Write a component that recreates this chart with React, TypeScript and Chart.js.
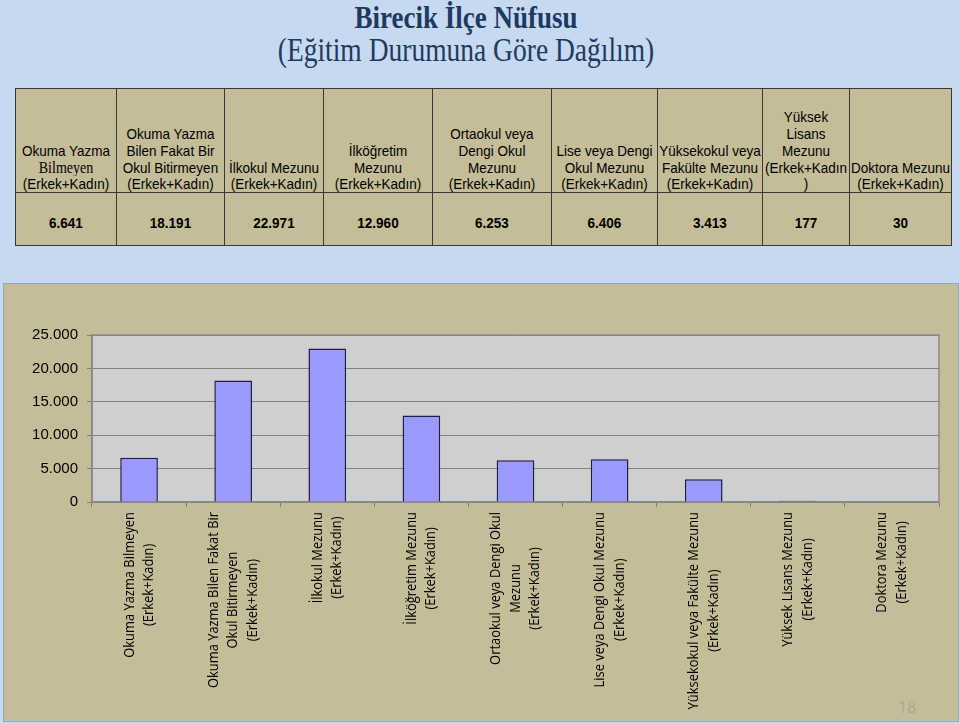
import React, { useEffect, useRef } from "react";
import { Chart, registerables } from "chart.js";

Chart.register(...registerables);

// ---------- data ----------
const titleText = "Birecik İlçe Nüfusu";
const subtitleText = "(Eğitim Durumuna Göre Dağılım)";

const tableHeaders: string[][] = [
  ["Okuma Yazma", "Bilmeyen", "(Erkek+Kadın)"],
  ["Okuma Yazma", "Bilen Fakat Bir", "Okul Bitirmeyen", "(Erkek+Kadın)"],
  ["İlkokul Mezunu", "(Erkek+Kadın)"],
  ["İlköğretim", "Mezunu", "(Erkek+Kadın)"],
  ["Ortaokul veya", "Dengi Okul", "Mezunu", "(Erkek+Kadın)"],
  ["Lise veya Dengi", "Okul Mezunu", "(Erkek+Kadın)"],
  ["Yüksekokul veya", "Fakülte Mezunu", "(Erkek+Kadın)"],
  ["Yüksek", "Lisans", "Mezunu", "(Erkek+Kadın", ")"],
  ["Doktora Mezunu", "(Erkek+Kadın)"],
];

const axisLabels: string[][] = [
  ["Okuma Yazma Bilmeyen", "(Erkek+Kadın)"],
  ["Okuma Yazma Bilen Fakat Bir", "Okul Bitirmeyen", "(Erkek+Kadın)"],
  ["İlkokul Mezunu", "(Erkek+Kadın)"],
  ["İlköğretim Mezunu", "(Erkek+Kadın)"],
  ["Ortaokul veya Dengi Okul", "Mezunu", "(Erkek+Kadın)"],
  ["Lise veya Dengi Okul Mezunu", "(Erkek+Kadın)"],
  ["Yüksekokul veya Fakülte Mezunu", "(Erkek+Kadın)"],
  ["Yüksek Lisans Mezunu", "(Erkek+Kadın)"],
  ["Doktora Mezunu", "(Erkek+Kadın)"],
];

const values: number[] = [6641, 18191, 22971, 12960, 6253, 6406, 3413, 177, 30];

const yMin = 0;
const yMax = 25000;
const yStep = 5000;

const pageNumber = "18";

// ---------- helpers ----------
function fmt(n: number): string {
  return String(n).replace(/\B(?=(\d{3})+(?!\d))/g, ".");
}

const LABEL_FONT = "15px 'Open Sans'";
const LABEL_SQUEEZE = 0.86;
const LABEL_LINE = 19.5;

const plotPlugin = {
  id: "plotDecor",
  beforeDraw(chart: any) {
    const { ctx, chartArea: a } = chart;
    ctx.save();
    ctx.fillStyle = "#cfcfcf";
    ctx.fillRect(a.left, a.top, a.right - a.left, a.bottom - a.top);
    ctx.restore();
  },
  beforeDatasetsDraw(chart: any) {
    const { ctx, chartArea: a } = chart;
    ctx.save();
    ctx.strokeStyle = "#8a8a8a";
    ctx.lineWidth = 1.5;
    ctx.strokeRect(a.left, a.top, a.right - a.left, a.bottom - a.top);
    ctx.restore();
  },
  afterDraw(chart: any) {
    const { ctx } = chart;
    const xs = chart.scales.x;
    const labels: string[][] = chart.data.labels;
    ctx.save();
    ctx.font = LABEL_FONT;
    ctx.fillStyle = "#000";
    ctx.textAlign = "center";
    ctx.textBaseline = "middle";
    labels.forEach((lines, i) => {
      const x = xs.getPixelForTick(i);
      const w = Math.max(...lines.map((l) => ctx.measureText(l).width)) * LABEL_SQUEEZE;
      const cy = xs.top + 10 + w / 2;
      const n = lines.length;
      lines.forEach((line, j) => {
        const lx = x + (j - (n - 1) / 2) * LABEL_LINE;
        ctx.save();
        ctx.translate(lx, cy);
        ctx.rotate(-Math.PI / 2);
        ctx.scale(LABEL_SQUEEZE, 1);
        ctx.fillText(line, 0, 0);
        ctx.restore();
      });
    });
    ctx.restore();
  },
};

function BarChart() {
  const ref = useRef<HTMLCanvasElement | null>(null);
  useEffect(() => {
    if (!ref.current) return;
    const chart = new Chart(ref.current, {
      type: "bar",
      data: {
        labels: axisLabels as any,
        datasets: [
          {
            data: values,
            backgroundColor: "#9999ff",
            borderColor: "#1c1c48",
            borderWidth: 1.5,
            barPercentage: 0.4,
            categoryPercentage: 1,
          },
        ],
      },
      options: {
        responsive: false,
        maintainAspectRatio: false,
        animation: false,
        layout: { padding: { top: 51, right: 19, left: 0, bottom: 0 } },
        plugins: {
          legend: { display: false },
          tooltip: { enabled: false },
          title: { display: false },
        },
        scales: {
          x: {
            type: "category",
            offset: true,
            grid: {
              display: true,
              drawOnChartArea: false,
              drawTicks: true,
              tickLength: 5,
              color: "#808080",
              offset: true,
            },
            border: { display: true, color: "#808080", width: 1.5 },
            ticks: { display: false, autoSkip: false },
            afterFit: (s: any) => {
              s.height = 219;
            },
          },
          y: {
            min: yMin,
            max: yMax,
            ticks: {
              stepSize: yStep,
              color: "#000",
              padding: 9,
              font: { family: "'Liberation Sans', Arial", size: 15 },
              callback: (v: any) => fmt(Number(v)),
            },
            grid: { color: "#808080", tickLength: 5, lineWidth: 1 },
            border: { display: true, color: "#808080", width: 1.5 },
            afterFit: (s: any) => {
              s.width = 88;
            },
          },
        },
      },
      plugins: [plotPlugin],
    } as any);
    return () => chart.destroy();
  }, []);
  return (
    <canvas
      ref={ref}
      width={954}
      height={437}
      style={{ position: "absolute", left: 0, top: 0, width: 954, height: 437 }}
    />
  );
}

const colWidths = [101, 108, 99, 109, 119, 106, 105, 87, 102];

export default function App() {
  const border = "1px solid #383838";
  const stretch = {
    display: "block",
    position: "relative",
    top: 2,
    transform: "scaleY(1.15)",
  } as const;
  return (
    <div
      style={{
        position: "fixed",
        left: 0,
        top: 0,
        width: 960,
        height: 724,
        background: "#c6d9f1",
        overflow: "hidden",
      }}
    >
      <div
        style={{
          position: "absolute",
          left: 0,
          top: 1,
          width: 932,
          textAlign: "center",
          fontFamily: "'Liberation Serif', 'Times New Roman', serif",
          fontWeight: "bold",
          fontSize: 27,
          lineHeight: "32px",
          color: "#1f3a60",
          transform: "scaleY(1.2)",
        }}
      >
        {titleText}
      </div>
      <div
        style={{
          position: "absolute",
          left: 0,
          top: 33,
          width: 932,
          textAlign: "center",
          fontFamily: "'Liberation Serif', 'Times New Roman', serif",
          fontSize: 27.5,
          lineHeight: "34px",
          color: "#1f3a60",
          transform: "scaleY(1.2)",
        }}
      >
        {subtitleText}
      </div>

      <table
        style={{
          position: "absolute",
          left: 15,
          top: 88,
          borderCollapse: "collapse",
          tableLayout: "fixed",
          width: 937,
          background: "#c4bd97",
          fontFamily: "'Liberation Sans', Arial, sans-serif",
          color: "#000",
        }}
      >
        <colgroup>
          {colWidths.map((w, i) => (
            <col key={i} style={{ width: w }} />
          ))}
        </colgroup>
        <tbody>
          <tr style={{ height: 104 }}>
            {tableHeaders.map((lines, i) => (
              <td
                key={i}
                style={{
                  border,
                  verticalAlign: "bottom",
                  textAlign: "center",
                  fontSize: 13.5,
                  lineHeight: "16.7px",
                  padding: "0 0 1px 0",
                  whiteSpace: "nowrap",
                  overflow: "visible",
                }}
              >
                {lines.map((l, j) => (
                  <span
                    key={j}
                    style={
                      i === 0 && j === 1
                        ? {
                            ...stretch,
                            fontFamily: "'Liberation Serif', 'Times New Roman', serif",
                            fontSize: 14,
                          }
                        : stretch
                    }
                  >
                    {l}
                  </span>
                ))}
              </td>
            ))}
          </tr>
          <tr style={{ height: 53 }}>
            {values.map((v, i) => (
              <td
                key={i}
                style={{
                  border,
                  textAlign: "center",
                  verticalAlign: "middle",
                  fontSize: 13.5,
                  fontWeight: "bold",
                  padding: "6px 0 0 0",
                }}
              >
                <span style={{ ...stretch, top: 0 }}>{fmt(v)}</span>
              </td>
            ))}
          </tr>
        </tbody>
      </table>

      <div
        style={{
          position: "absolute",
          left: 4,
          top: 284,
          width: 954,
          height: 437,
          background: "#c4bd97",
          boxShadow: "0 0 0 1px #8ea7c6",
        }}
      >
        <BarChart />
        <div
          style={{
            position: "absolute",
            left: 894,
            top: 412,
            fontFamily: "'Open Sans', sans-serif",
            fontSize: 16,
            color: "#a6a6a6",
          }}
        >
          {pageNumber}
        </div>
      </div>
    </div>
  );
}
